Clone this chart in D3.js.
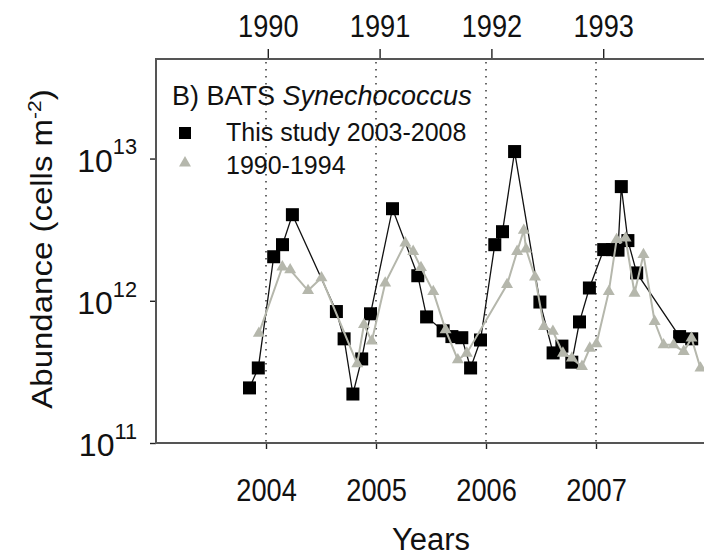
<!DOCTYPE html>
<html>
<head>
<meta charset="utf-8">
<script src="https://cdn.jsdelivr.net/npm/d3@7"></script>
<style>
  body { margin: 0; background: #fff; }
  svg { display: block; font-family: Arial, "Liberation Sans", sans-serif; }
</style>
</head>
<body>
<svg id="chart" width="704" height="558"></svg>
<script>
// BATS Synechococcus depth-integrated abundance (cells m^-2)
const studyDates = [2003.85, 2003.93, 2004.07, 2004.15, 2004.24, 2004.64, 2004.71, 2004.79, 2004.87, 2004.95,
  2005.15, 2005.38, 2005.46, 2005.61, 2005.69, 2005.78, 2005.86, 2005.95, 2006.08, 2006.15,
  2006.26, 2006.49, 2006.61, 2006.69, 2006.78, 2006.85, 2006.94, 2007.07, 2007.15, 2007.20,
  2007.23, 2007.29, 2007.37, 2007.76, 2007.87];
const studyValues = [2.44e11, 3.37e11, 2.04e12, 2.48e12, 4.03e12, 8.4e11, 5.4e11, 2.21e11, 3.9e11, 8.1e11,
  4.44e12, 1.5e12, 7.7e11, 6.15e11, 5.6e11, 5.5e11, 3.37e11, 5.3e11, 2.48e12, 3.06e12,
  1.12e13, 9.8e11, 4.3e11, 4.8e11, 3.7e11, 7.1e11, 1.23e12, 2.29e12, 2.29e12, 2.27e12,
  6.35e12, 2.65e12, 1.57e12, 5.6e11, 5.4e11];

const histDates = [1989.92, 1990.13, 1990.20, 1990.36, 1990.48, 1990.80, 1990.86, 1990.93, 1991.05, 1991.23,
  1991.30, 1991.37, 1991.48, 1991.59, 1991.70, 1991.78, 1992.14, 1992.23, 1992.29, 1992.31,
  1992.39, 1992.47, 1992.55, 1992.64, 1992.72, 1992.81, 1992.88, 1992.94, 1993.05, 1993.12,
  1993.20, 1993.28, 1993.36, 1993.46, 1993.54, 1993.63, 1993.72, 1993.79, 1993.87];
const histValues = [5.9e11, 1.73e12, 1.65e12, 1.18e12, 1.45e12, 3.6e11, 6.8e11, 5.2e11, 1.33e12, 2.55e12,
  2.22e12, 1.71e12, 1.16e12, 6.25e11, 3.84e11, 4.28e11, 1.30e12, 2.22e12, 3.13e12, 2.31e12,
  1.47e12, 6.6e11, 6.1e11, 4.28e11, 3.95e11, 3.45e11, 4.64e11, 4.98e11, 1.16e12, 2.69e12,
  2.76e12, 1.13e12, 2.11e12, 7.15e11, 4.9e11, 4.9e11, 4.4e11, 5.46e11, 3.36e11];

const bottomYears = [2004, 2005, 2006, 2007];
const topYears = [1990, 1991, 1992, 1993];
const yTickValues = [1e11, 1e12, 1e13];
const yTickExponents = ["11", "12", "13"];

const legendTitle = "B) BATS ";
const legendTitleItalic = "Synechococcus";
const seriesNames = ["This study 2003-2008", "1990-1994"];

const black = "#000";
const grey = "#b5b7ac";
const axisColor = "#555";

const svg = d3.select("#chart");
const pLeft = 156, pRight = 706, pTop = 59, pBottom = 443;
const squeeze = 0.85;   // narrow lettering of the year labels

const x = d3.scaleLinear().domain([2003, 2008]).range([pLeft, pRight]);
const xTop = d3.scaleLinear().domain([1989, 1994]).range([pLeft, 715]);
const y = d3.scaleLog().domain([1e11, Math.pow(10, 13.7)]).range([pBottom, pTop]);

// dotted year guides
svg.append("g").selectAll("line").data(bottomYears).join("line")
  .attr("x1", d => x(d)).attr("x2", d => x(d))
  .attr("y1", pTop + 3).attr("y2", pBottom)
  .attr("stroke", "#444").attr("stroke-width", 1.6)
  .attr("stroke-dasharray", "1.6,5.4");

// axes
const fontTick = 32;
const gB = svg.append("g").attr("transform", `translate(0,${pBottom})`)
  .call(d3.axisBottom(x).tickValues(bottomYears).tickSize(6).tickSizeOuter(0).tickPadding(36).tickFormat(d3.format("d")));
const gT = svg.append("g").attr("transform", `translate(0,${pTop})`)
  .call(d3.axisTop(xTop).tickValues(topYears).tickSize(10).tickSizeOuter(0).tickPadding(12).tickFormat(d3.format("d")));
const gL = svg.append("g").attr("transform", `translate(${pLeft},0)`)
  .call(d3.axisLeft(y).tickValues(yTickValues).tickSize(6).tickSizeOuter(0).tickFormat(""));

[gB, gT, gL].forEach(g => {
  g.select(".domain").remove();
  g.selectAll(".tick line").attr("stroke", "#222").attr("stroke-width", 1.4);
  g.selectAll(".tick text").attr("font-size", fontTick).attr("fill", "#111")
    .attr("font-family", "Arial, 'Liberation Sans', sans-serif")
    .attr("transform", `scale(${squeeze},1)`);
});
gB.selectAll(".tick text").attr("dy", "0.5em");

// frame lines (left, top, bottom)
svg.append("line").attr("x1", pLeft).attr("x2", 720).attr("y1", pTop).attr("y2", pTop)
  .attr("stroke", axisColor).attr("stroke-width", 2);
svg.append("line").attr("x1", pLeft).attr("x2", 720).attr("y1", pBottom).attr("y2", pBottom)
  .attr("stroke", axisColor).attr("stroke-width", 2);
svg.append("line").attr("x1", pLeft).attr("x2", pLeft).attr("y1", pTop - 1).attr("y2", pBottom + 1)
  .attr("stroke", axisColor).attr("stroke-width", 2);

// y tick labels as powers of ten
gL.selectAll(".tick").each(function(d, i) {
  const t = d3.select(this).append("text")
    .attr("x", -19).attr("dy", "0.4em").attr("text-anchor", "end")
    .attr("fill", "#111").attr("font-size", fontTick);
  t.append("tspan").text("10");
  t.append("tspan").attr("font-size", fontTick * 0.68).attr("dy", "-0.8em").text(yTickExponents[i]);
});

// axis titles
svg.append("text").attr("x", (pLeft + pRight) / 2).attr("y", 550)
  .attr("text-anchor", "middle").attr("font-size", 31).attr("fill", "#111").text("Years");

const yl = svg.append("text")
  .attr("transform", `translate(52,${(pTop + pBottom) / 2 - 2}) rotate(-90) scale(1,0.88)`)
  .attr("text-anchor", "middle").attr("font-size", 33).attr("fill", "#111");
yl.append("tspan").text("Abundance (cells m");
yl.append("tspan").attr("font-size", 21).attr("dy", -13).text("-2");
yl.append("tspan").attr("dy", 13).text(")");

// series
const study = studyDates.map((d, i) => [d, studyValues[i]]);
const hist = histDates.map((d, i) => [d, histValues[i]]);

svg.append("path").datum(study)
  .attr("d", d3.line().x(d => x(d[0])).y(d => y(d[1])))
  .attr("fill", "none").attr("stroke", "#111").attr("stroke-width", 1.3);
svg.append("g").selectAll("rect").data(study).join("rect")
  .attr("x", d => x(d[0]) - 6.5).attr("y", d => y(d[1]) - 6.5)
  .attr("width", 13).attr("height", 13).attr("fill", black);

const tri = d3.symbol().type(d3.symbolTriangle).size(62);
svg.append("path").datum(hist)
  .attr("d", d3.line().x(d => xTop(d[0])).y(d => y(d[1])))
  .attr("fill", "none").attr("stroke", grey).attr("stroke-width", 2);
svg.append("g").selectAll("path").data(hist).join("path")
  .attr("transform", d => `translate(${xTop(d[0])},${y(d[1])})`)
  .attr("d", tri).attr("fill", grey);

// legend
const lg = svg.append("g");
const lt = lg.append("text").attr("x", 172).attr("y", 105).attr("font-size", 27).attr("fill", "#111");
lt.append("tspan").text(legendTitle);
lt.append("tspan").attr("font-style", "italic").text(legendTitleItalic);

lg.append("rect").attr("x", 179).attr("y", 127).attr("width", 12).attr("height", 12).attr("fill", black);
lg.append("path").attr("transform", "translate(185,163)").attr("d", tri).attr("fill", grey);
lg.selectAll("text.item").data(seriesNames).join("text").attr("class", "item")
  .attr("x", 226).attr("y", (d, i) => 141 + i * 33)
  .attr("font-size", 25).attr("fill", "#111").text(d => d);
</script>
</body>
</html>
